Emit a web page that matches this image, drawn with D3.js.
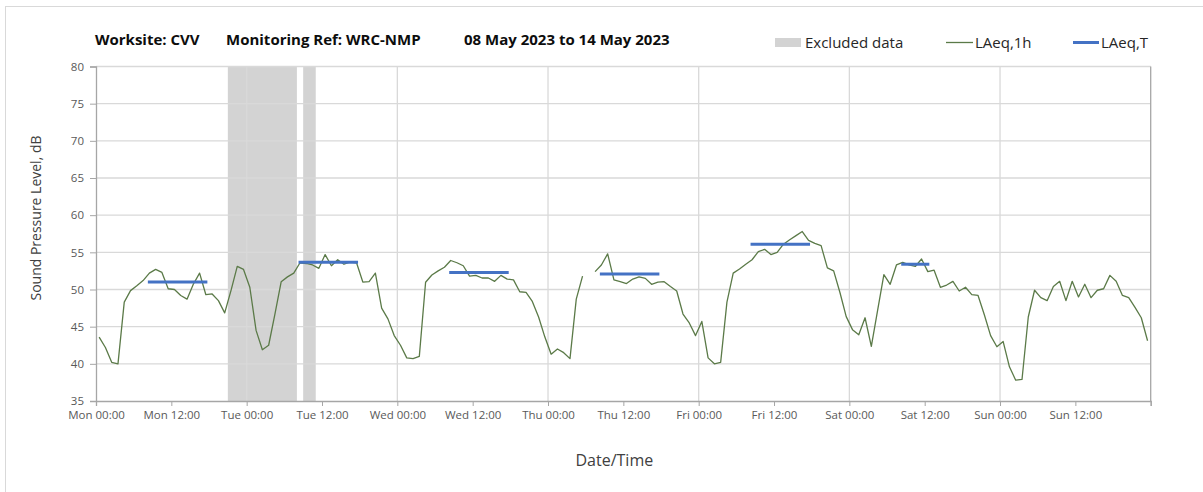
<!DOCTYPE html>
<html>
<head>
<meta charset="utf-8">
<script src="https://cdn.jsdelivr.net/npm/d3@7"></script>
<style>
  html, body { margin: 0; padding: 0; background: #fff; }
  svg { display: block; font-family: "Open Sans", sans-serif; }
</style>
</head>
<body>
<svg id="chart" width="1203" height="492"></svg>
<script>
// chart data
const startDate = new Date(2023, 4, 8, 0, 0);   // Mon 08 May 2023 00:00
const endDate = new Date(2023, 4, 15, 0, 0);

// LAeq,1h hourly values, Mon 00:00 .. Sun 23:00 (null = no data)
const laeq1h = [
  43.6, 42.2, 40.2, 40.0, 48.3, 49.85, 50.5, 51.2, 52.2, 52.7, 52.3, 50.1,
  50.0, 49.2, 48.7, 50.7, 52.2, 49.3, 49.4, 48.5, 46.85, 49.85, 53.1, 52.7,
  50.3, 44.5, 41.9, 42.5, 46.7, 51.05, 51.7, 52.2, 53.6, 53.5, 53.3, 52.85,
  54.7, 53.2, 54.0, 53.4, 53.7, 53.6, 51.0, 51.05, 52.2, 47.5, 46.05, 43.8,
  42.5, 40.8, 40.7, 41.0, 50.97, 51.95, 52.5, 53.0, 53.9, 53.6, 53.2, 51.8,
  51.9, 51.55, 51.55, 51.1, 51.9, 51.4, 51.3, 49.7, 49.6, 48.4, 46.3, 43.6,
  41.3, 42.0, 41.5, 40.7, 48.7, 51.8, null, 52.4, 53.3, 54.8, 51.3, 51.05,
  50.8, 51.4, 51.7, 51.5, 50.7, 51.0, 51.05, 50.4, 49.8, 46.7, 45.5, 43.8,
  45.7, 40.8, 40.0, 40.2, 48.3, 52.2, 52.75, 53.4, 54.0, 55.1, 55.4, 54.7,
  55.0, 56.1, 56.7, 57.25, 57.8, 56.6, 56.2, 55.9, 52.9, 52.5, 49.6, 46.35,
  44.6, 43.9, 46.2, 42.35, 47.2, 52.0, 50.7, 53.3, 53.65, 53.3, 53.1, 54.1,
  52.4, 52.6, 50.3, 50.6, 51.1, 49.8, 50.3, 49.3, 49.2, 46.6, 43.8, 42.3,
  43.0, 39.6, 37.8, 37.9, 46.3, 49.9, 48.9, 48.5, 50.4, 51.1, 48.5, 51.1,
  49.0, 50.7, 48.9, 49.9, 50.1, 51.9, 51.1, 49.2, 48.9, 47.6, 46.2, 43.1
];

// LAeq,T periods (day index from Monday, start hour, end hour, level)
const periodDay = [0, 1, 2, 3, 4, 5];
const periodStart = [8, 8, 8, 8, 8, 8];
const periodEnd = [18, 18, 18, 18, 18, 13];
const periodLevel = [51.0, 53.65, 52.3, 52.1, 56.1, 53.4];

// excluded data, hours from Mon 00:00
const excludedStart = [21, 33];
const excludedEnd = [32, 35];

const yTicks = [35, 40, 45, 50, 55, 60, 65, 70, 75, 80];

const titleParts = ["Worksite: CVV", "Monitoring Ref: WRC-NMP", "08 May 2023 to 14 May 2023"];
const legendLabels = ["Excluded data", "LAeq,1h", "LAeq,T"];

// layout
const plot = { left: 96, right: 1150.7, top: 66.5, bottom: 401 };
const colors = {
  excluded: "#d3d3d3",
  line: "#5b7a48",
  period: "#4472c4",
  grid: "#d9d9d9",
  axis: "#a6a6a6",
  tickText: "#595959",
  title: "#404040"
};

const svg = d3.select("#chart");

// outer chart border
svg.append("rect")
  .attr("x", 5.5).attr("y", 6.5)
  .attr("width", 1203).attr("height", 492)
  .attr("fill", "none")
  .attr("stroke", "#d9d9d9");

const hourAt = h => d3.timeMinute.offset(startDate, Math.round(h * 60));

const x = d3.scaleTime()
  .domain([startDate, endDate])
  .range([plot.left, plot.right]);

const y = d3.scaleLinear()
  .domain([35, 80])
  .range([plot.bottom, plot.top]);

// excluded bands
svg.append("g")
  .selectAll("rect")
  .data(excludedStart.map((s, i) => ({ s: s, e: excludedEnd[i] })))
  .join("rect")
  .attr("x", d => x(hourAt(d.s)))
  .attr("width", d => x(hourAt(d.e)) - x(hourAt(d.s)))
  .attr("y", y(80))
  .attr("height", y(35) - y(80))
  .attr("fill", colors.excluded);

// horizontal gridlines
svg.append("g")
  .selectAll("line")
  .data(yTicks.filter(t => t > 35))
  .join("line")
  .attr("x1", plot.left).attr("x2", plot.right)
  .attr("y1", d => y(d)).attr("y2", d => y(d))
  .attr("stroke", colors.grid)
  .attr("stroke-width", 1.3);

// vertical gridlines at midnight
const days = d3.timeDay.range(d3.timeDay.offset(startDate, 1), d3.timeDay.offset(endDate, 1));
svg.append("g")
  .selectAll("line")
  .data(days)
  .join("line")
  .attr("x1", d => x(d)).attr("x2", d => x(d))
  .attr("y1", y(80)).attr("y2", y(35))
  .attr("stroke", d => +d === +endDate ? colors.axis : colors.grid)
  .attr("stroke-width", 1.3);

// y axis
const yAxis = svg.append("g")
  .attr("transform", `translate(${plot.left},0)`)
  .call(d3.axisLeft(y).tickValues(yTicks).tickSize(6).tickPadding(6).tickFormat(d3.format("d")));
yAxis.select(".domain").attr("stroke", colors.axis).attr("stroke-width", 1.3);
yAxis.selectAll(".tick line").attr("stroke", colors.axis);
yAxis.selectAll(".tick text")
  .attr("fill", colors.tickText)
  .style("font-size", "11.5px")
  .style("font-family", "'Open Sans', sans-serif");

// x axis
const xTicks = d3.timeHour.every(12).range(startDate, d3.timeHour.offset(endDate, 1));
const fmt = d3.timeFormat("%a %H:%M");
const xAxis = svg.append("g")
  .attr("transform", `translate(0,${plot.bottom})`)
  .call(d3.axisBottom(x).tickValues(xTicks).tickSize(5).tickPadding(5)
    .tickFormat(d => +d === +endDate ? "" : fmt(d)));
xAxis.select(".domain").attr("stroke", colors.axis).attr("stroke-width", 1.3);
xAxis.selectAll(".tick line").attr("stroke", colors.axis);
xAxis.selectAll(".tick text")
  .attr("fill", colors.tickText)
  .style("font-size", "11.5px")
  .style("font-family", "'Open Sans', sans-serif");

// LAeq,1h line (value plotted at the middle of each hour)
const hourly = laeq1h.map((v, i) => ({ t: hourAt(i + 0.5), v: v }));
const line = d3.line()
  .defined(d => d.v != null)
  .x(d => x(d.t))
  .y(d => y(d.v));
svg.append("path")
  .datum(hourly)
  .attr("fill", "none")
  .attr("stroke", colors.line)
  .attr("stroke-width", 1.3)
  .attr("stroke-linejoin", "round")
  .attr("d", line);

// LAeq,T period levels
svg.append("g")
  .selectAll("line")
  .data(periodDay.map((d, i) => ({
    t0: hourAt(d * 24 + periodStart[i] + 0.5),
    t1: hourAt(d * 24 + periodEnd[i] - 0.5),
    v: periodLevel[i]
  })))
  .join("line")
  .attr("x1", d => x(d.t0)).attr("x2", d => x(d.t1))
  .attr("y1", d => y(d.v)).attr("y2", d => y(d.v))
  .attr("stroke", colors.period)
  .attr("stroke-width", 3)
  .attr("stroke-linecap", "square");

// title
const titleX = [95, 226, 464];
svg.append("g")
  .selectAll("text")
  .data(titleParts)
  .join("text")
  .attr("x", (d, i) => titleX[i])
  .attr("y", 45)
  .attr("fill", "#0d0d0d")
  .style("font-size", "15px")
  .style("font-weight", "bold")
  .text(d => d);

// legend
const lg = svg.append("g").style("font-size", "15px").attr("fill", "#262626");
lg.append("rect").attr("x", 775).attr("y", 38).attr("width", 26).attr("height", 9).attr("fill", colors.excluded);
lg.append("text").attr("x", 805).attr("y", 48).text(legendLabels[0]);
lg.append("line").attr("x1", 946).attr("x2", 973).attr("y1", 42.5).attr("y2", 42.5)
  .attr("stroke", colors.line).attr("stroke-width", 1.3);
lg.append("text").attr("x", 975).attr("y", 48).text(legendLabels[1]);
lg.append("line").attr("x1", 1073).attr("x2", 1099).attr("y1", 42.5).attr("y2", 42.5)
  .attr("stroke", colors.period).attr("stroke-width", 3);
lg.append("text").attr("x", 1101).attr("y", 48).text(legendLabels[2]);

// axis titles
svg.append("text")
  .attr("x", (plot.left + plot.right) / 2 - 9)
  .attr("y", 466)
  .attr("text-anchor", "middle")
  .attr("fill", colors.title)
  .style("font-size", "16px")
  .text("Date/Time");

svg.append("text")
  .attr("transform", "translate(41,218) rotate(-90)")
  .attr("text-anchor", "middle")
  .attr("fill", colors.title)
  .style("font-size", "14px")
  .text("Sound Pressure Level, dB");
</script>
</body>
</html>
